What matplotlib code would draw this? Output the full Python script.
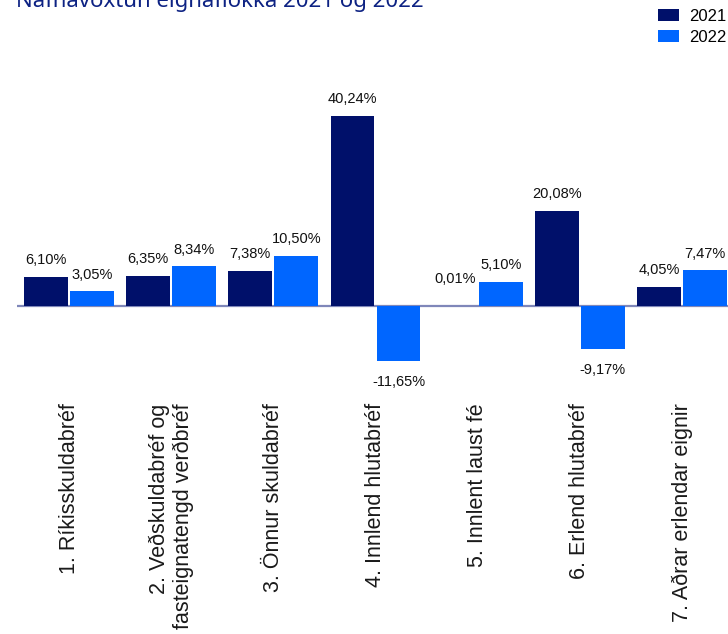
import matplotlib
matplotlib.use("Agg")
import matplotlib.pyplot as plt

plt.rcParams["font.family"] = ["Liberation Sans", "DejaVu Sans"]

# Nominal returns per asset class (%)
categories = [
    "1. Ríkisskuldabréf",
    "2. Veðskuldabréf og\nfasteignatengd verðbréf",
    "3. Önnur skuldabréf",
    "4. Innlend hlutabréf",
    "5. Innlent laust fé",
    "6. Erlend hlutabréf",
    "7. Aðrar erlendar eignir",
]
ret_2021 = [6.10, 6.35, 7.38, 40.24, 0.01, 20.08, 4.05]
ret_2022 = [3.05, 8.34, 10.50, -11.65, 5.10, -9.17, 7.47]

navy = "#00106a"
blue = "#0066ff"

W, H = 728, 634
fig = plt.figure(figsize=(W / 100, H / 100), dpi=100)
ax = fig.add_axes([17 / W, 1 - 395 / H, (W - 17) / W, (395 - 90) / H])

x = list(range(len(categories)))
bw = 0.43
off = 0.225
b1 = ax.bar([i - off for i in x], ret_2021, bw, color=navy, label="2021", zorder=3)
b2 = ax.bar([i + off for i in x], ret_2022, bw, color=blue, label="2022", zorder=3)
ax.axhline(0, color="#7f87b9", lw=1.6, zorder=2)

def fmt(v):
    return f"{v:.2f}".replace(".", ",") + "%"

for xs, vals in (([i - off for i in x], ret_2021), ([i + off for i in x], ret_2022)):
    for xi, v in zip(xs, vals):
        if v >= 0:
            ax.annotate(fmt(v), (xi, max(v, 2.1)), xytext=(0, 7), textcoords="offset points",
                        ha="center", va="bottom", fontsize=10.5, color="#111111")
        else:
            ax.annotate(fmt(v), (xi, v), xytext=(0, -10), textcoords="offset points",
                        ha="center", va="top", fontsize=10.5, color="#111111")

ax.set_xlim(-0.509, 6.45)
ax.set_ylim(-18.9, 45.7)
ax.set_yticks([])
ax.set_xticks(x)
ax.set_xticklabels(categories, rotation=90, ha="center", va="top",
                   multialignment="right", fontsize=15.5, color="#1a1a1a")
ax.tick_params(axis="x", length=0, pad=6)
for s in ax.spines.values():
    s.set_visible(False)

fig.text(16 / W, 1 - 7 / H, "Nafnávöxtun eignaflokka 2021 og 2022", fontsize=16,
         color="#0d2283", ha="left", va="baseline", family=["Noto Sans", "DejaVu Sans"])

fig.legend(handles=[b1, b2], loc="upper right", bbox_to_anchor=(726 / W, 1 - 9 / H),
           bbox_transform=fig.transFigure, frameon=False, fontsize=12,
           handlelength=1.26, handleheight=0.72, handletextpad=0.6,
           labelspacing=0.35, borderpad=0, borderaxespad=0)

fig.savefig("out.png", dpi=100)
